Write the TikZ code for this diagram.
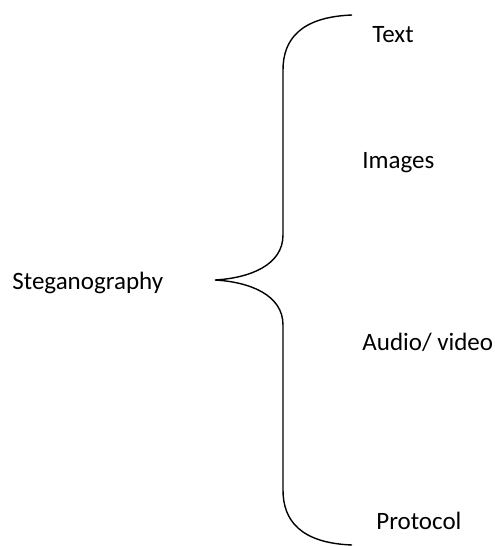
\documentclass[tikz,border=0pt]{standalone}
\usepackage{fontspec}
\setmainfont{Carlito}
\usetikzlibrary{positioning}

\begin{document}
\begin{tikzpicture}[
            x=0.5pt, y=-0.5pt,
            item/.style={anchor=west, inner sep=0pt, font=\fontsize{12.5}{15}\selectfont},
            brace/.style={draw, line width=0.7pt}]

        \useasboundingbox (0,0) rectangle (494,546);

        \node[item] (steg) at (12,283) {Steganography};
        \node[item] (text) at (372,35) {Text};
        \node[item] (img) at (362,163) {Images};
        \node[item] (av) at (362,342) {Audio/ video};
        \node[item] (prot) at (376,521) {Protocol};

        \coordinate (tip) at (215,280);
        \draw[brace] (352,15) .. controls (300,17) and (283,40) .. (283,70)
            -- (283,235) .. controls (283,265) and (250,278) .. (tip)
            .. controls (250,282) and (283,295) .. (283,325)
            -- (283,490) .. controls (283,520) and (300,543) .. (352,545);

    \end{tikzpicture}
\end{document}
